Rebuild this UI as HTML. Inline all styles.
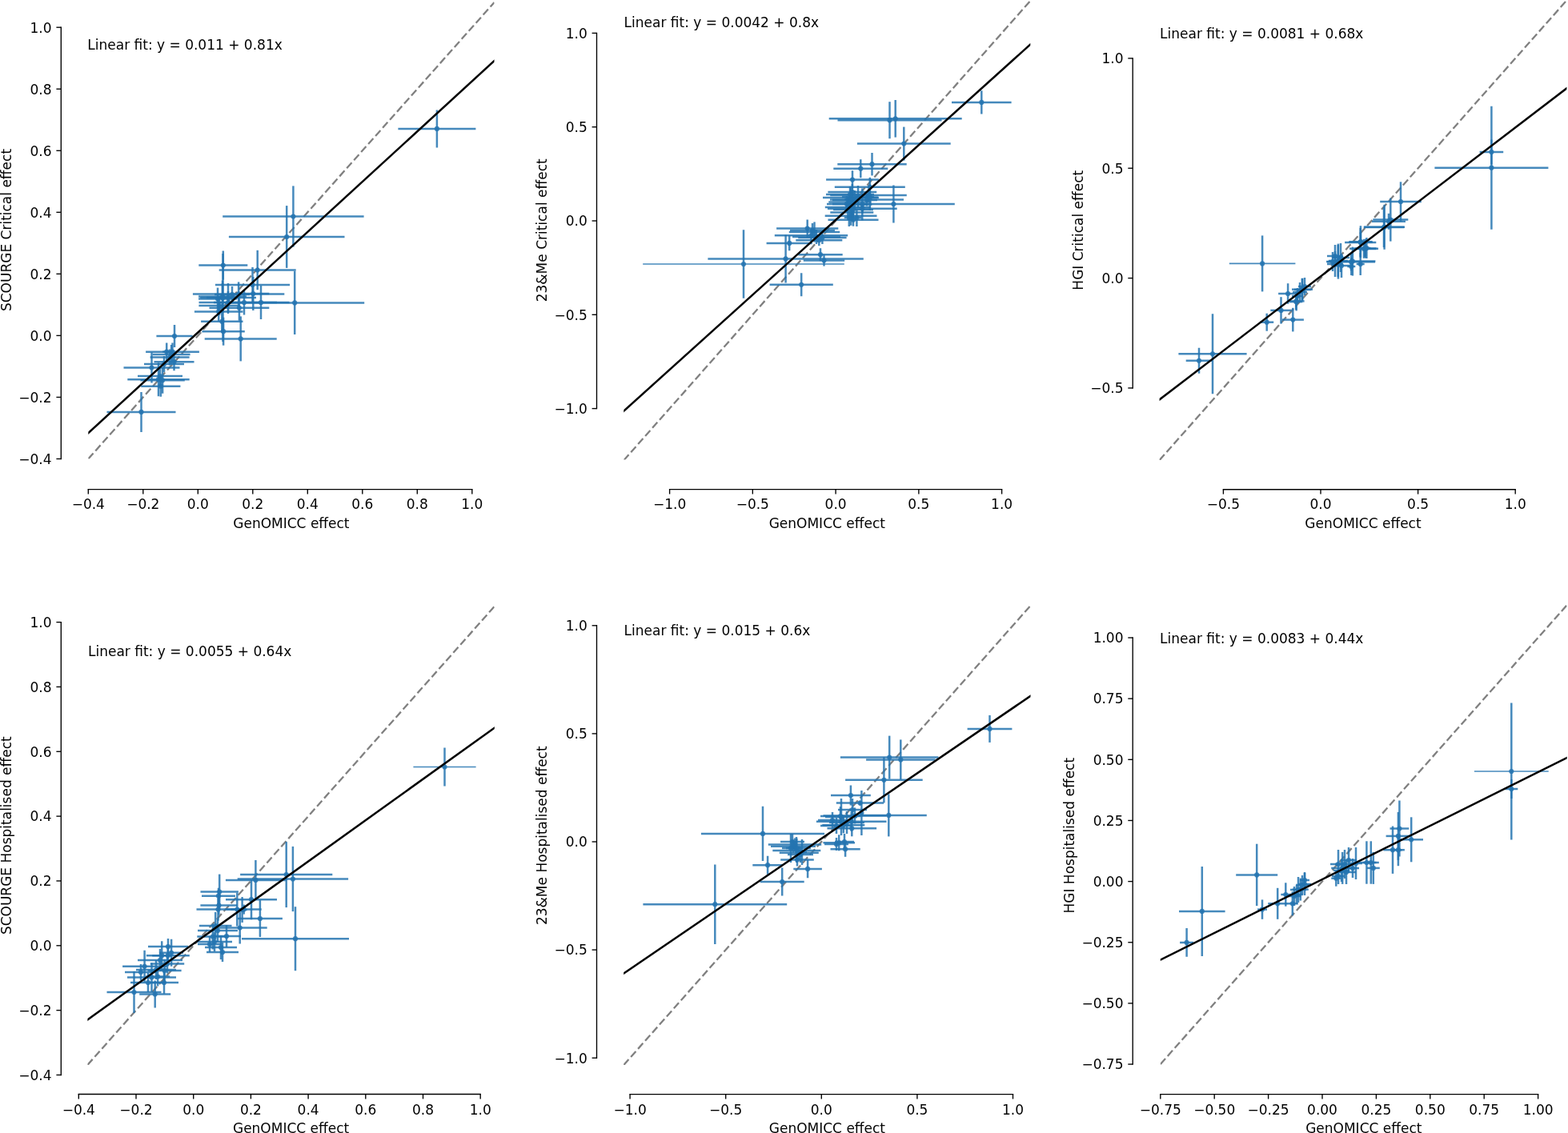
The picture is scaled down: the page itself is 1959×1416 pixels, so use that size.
<!DOCTYPE html><html><head><meta charset="utf-8"><title>GenOMICC comparison</title>
<style>html,body{margin:0;padding:0;background:#fff;overflow:hidden;width:1959px;height:1416px;}svg{display:block;}text{font-family:"DejaVu Sans", "Liberation Sans", sans-serif;font-size:17px;fill:#000;}</style></head><body>
<svg width="1959" height="1416" viewBox="0 0 1959 1416">
<rect width="1959" height="1416" fill="#fff"/>
<defs>
<clipPath id="cp1"><rect x="110.3" y="-1.5" width="507.2" height="575.0"/></clipPath>
<clipPath id="cp2"><rect x="779.3" y="-2.0" width="508.0" height="576.5"/></clipPath>
<clipPath id="cp3"><rect x="1448.6" y="-2.6" width="508.8" height="577.6"/></clipPath>
<clipPath id="cp4"><rect x="109.4" y="754.5" width="508.4" height="576.5"/></clipPath>
<clipPath id="cp5"><rect x="779.2" y="754.5" width="508.3" height="576.5"/></clipPath>
<clipPath id="cp6"><rect x="1449.8" y="754.5" width="507.9" height="576.5"/></clipPath>
</defs>
<g id="p1"><g clip-path="url(#cp1)"><line x1="110.3" y1="573.5" x2="617.5" y2="3.0" stroke="#808080" stroke-width="2.3" stroke-dasharray="9.4,4.1"/><g stroke="#2474b0" stroke-width="2.5" stroke-opacity="0.85" fill="none"><path d="M497.4 160.9H594.4"/><path d="M278.2 270.5H454.6"/><path d="M285.9 296.0H430.5"/><path d="M248.3 331.6H309.3"/><path d="M273.7 337.5H369.7"/><path d="M281.2 378.4H455.2"/><path d="M268.9 355.9H362.1"/><path d="M240.9 367.4H355.3"/><path d="M296.3 367.0H336.3"/><path d="M248.5 378.0H361.5"/><path d="M306.0 378.0H346.0"/><path d="M251.1 401.8H303.5"/><path d="M252.4 414.2H305.8"/><path d="M255.7 423.4H345.7"/><path d="M261.5 384.8H336.3"/><path d="M242.9 389.4H303.5"/><path d="M248.4 382.0H299.8"/><path d="M248.0 370.5H308.0"/><path d="M250.0 372.0H320.0"/><path d="M248.0 373.6H296.0"/><path d="M133.5 514.9H219.5"/><path d="M195.4 420.0H240.6"/><path d="M154.5 459.5H224.5"/><path d="M159.3 474.2H236.7"/><path d="M175.4 475.3H230.8"/><path d="M176.2 482.7H225.4"/><path d="M182.1 439.7H248.9"/><path d="M203.2 439.7H213.2"/><path d="M190.6 443.1H237.6"/><path d="M192.5 452.2H242.5"/><path d="M187.6 446.5H236.6"/><path d="M258.0 372.0H298.0"/><path d="M267.0 378.0H303.0"/><path d="M275.5 372.0H281.5"/><path d="M268.0 368.0H312.0"/><path d="M180.0 455.0H230.0"/><path d="M172.0 470.0H228.0"/><path d="M545.9 137.4V184.4"/><path d="M366.4 232.4V308.6"/><path d="M358.2 257.1V334.9"/><path d="M278.8 313.5V349.7"/><path d="M321.7 312.8V362.2"/><path d="M368.2 338.8V418.0"/><path d="M315.5 333.9V377.9"/><path d="M298.1 352.4V382.4"/><path d="M316.3 346.0V388.0"/><path d="M305.0 362.5V393.5"/><path d="M326.0 357.0V399.0"/><path d="M277.3 387.8V415.8"/><path d="M279.1 396.7V431.7"/><path d="M300.7 395.4V451.4"/><path d="M298.9 368.8V400.8"/><path d="M273.2 377.4V401.4"/><path d="M274.1 370.0V394.0"/><path d="M278.0 350.5V390.5"/><path d="M285.0 354.0V390.0"/><path d="M272.0 359.6V387.6"/><path d="M176.5 489.9V539.9"/><path d="M218.0 406.0V434.0"/><path d="M189.5 440.5V478.5"/><path d="M198.0 453.2V495.2"/><path d="M203.1 458.9V491.7"/><path d="M200.8 469.7V495.7"/><path d="M215.5 428.4V451.0"/><path d="M208.2 428.4V451.0"/><path d="M214.1 431.1V455.1"/><path d="M217.5 441.2V463.2"/><path d="M212.1 436.5V456.5"/><path d="M278.0 354.0V390.0"/><path d="M285.0 364.0V392.0"/><path d="M278.5 317.0V427.0"/><path d="M290.0 358.0V378.0"/><path d="M205.0 445.0V465.0"/><path d="M200.0 458.0V482.0"/></g><g fill="#2474b0" fill-opacity="0.85"><circle cx="545.9" cy="160.9" r="3.1"/><circle cx="366.4" cy="270.5" r="3.1"/><circle cx="358.2" cy="296.0" r="3.1"/><circle cx="278.8" cy="331.6" r="3.1"/><circle cx="321.7" cy="337.5" r="3.1"/><circle cx="368.2" cy="378.4" r="3.1"/><circle cx="315.5" cy="355.9" r="3.1"/><circle cx="298.1" cy="367.4" r="3.1"/><circle cx="316.3" cy="367.0" r="3.1"/><circle cx="305.0" cy="378.0" r="3.1"/><circle cx="326.0" cy="378.0" r="3.1"/><circle cx="277.3" cy="401.8" r="3.1"/><circle cx="279.1" cy="414.2" r="3.1"/><circle cx="300.7" cy="423.4" r="3.1"/><circle cx="298.9" cy="384.8" r="3.1"/><circle cx="273.2" cy="389.4" r="3.1"/><circle cx="274.1" cy="382.0" r="3.1"/><circle cx="278.0" cy="370.5" r="3.1"/><circle cx="285.0" cy="372.0" r="3.1"/><circle cx="272.0" cy="373.6" r="3.1"/><circle cx="176.5" cy="514.9" r="3.1"/><circle cx="218.0" cy="420.0" r="3.1"/><circle cx="189.5" cy="459.5" r="3.1"/><circle cx="198.0" cy="474.2" r="3.1"/><circle cx="203.1" cy="475.3" r="3.1"/><circle cx="200.8" cy="482.7" r="3.1"/><circle cx="215.5" cy="439.7" r="3.1"/><circle cx="208.2" cy="439.7" r="3.1"/><circle cx="214.1" cy="443.1" r="3.1"/><circle cx="217.5" cy="452.2" r="3.1"/><circle cx="212.1" cy="446.5" r="3.1"/><circle cx="278.0" cy="372.0" r="3.1"/><circle cx="285.0" cy="378.0" r="3.1"/><circle cx="278.5" cy="372.0" r="3.1"/><circle cx="290.0" cy="368.0" r="3.1"/><circle cx="205.0" cy="455.0" r="3.1"/><circle cx="200.0" cy="470.0" r="3.1"/></g><line x1="110.3" y1="541.2" x2="617.5" y2="76.0" stroke="#000" stroke-width="2.5" stroke-linecap="square"/></g><g stroke="#000" stroke-width="1.36" fill="none"><line x1="76.30" y1="33.52" x2="76.30" y2="574.16"/><line x1="70.40" y1="573.48" x2="76.30" y2="573.48"/><line x1="70.40" y1="496.44" x2="76.30" y2="496.44"/><line x1="70.40" y1="419.40" x2="76.30" y2="419.40"/><line x1="70.40" y1="342.36" x2="76.30" y2="342.36"/><line x1="70.40" y1="265.32" x2="76.30" y2="265.32"/><line x1="70.40" y1="188.28" x2="76.30" y2="188.28"/><line x1="70.40" y1="111.24" x2="76.30" y2="111.24"/><line x1="70.40" y1="34.20" x2="76.30" y2="34.20"/><line x1="109.62" y1="611.60" x2="590.48" y2="611.60"/><line x1="110.30" y1="611.60" x2="110.30" y2="617.50"/><line x1="178.80" y1="611.60" x2="178.80" y2="617.50"/><line x1="247.30" y1="611.60" x2="247.30" y2="617.50"/><line x1="315.80" y1="611.60" x2="315.80" y2="617.50"/><line x1="384.30" y1="611.60" x2="384.30" y2="617.50"/><line x1="452.80" y1="611.60" x2="452.80" y2="617.50"/><line x1="521.30" y1="611.60" x2="521.30" y2="617.50"/><line x1="589.80" y1="611.60" x2="589.80" y2="617.50"/></g><text x="64.6" y="579.8" text-anchor="end">−0.4</text><text x="64.6" y="502.7" text-anchor="end">−0.2</text><text x="64.6" y="425.7" text-anchor="end">0.0</text><text x="64.6" y="348.7" text-anchor="end">0.2</text><text x="64.6" y="271.6" text-anchor="end">0.4</text><text x="64.6" y="194.6" text-anchor="end">0.6</text><text x="64.6" y="117.5" text-anchor="end">0.8</text><text x="64.6" y="40.5" text-anchor="end">1.0</text><text x="110.3" y="636.3" text-anchor="middle">−0.4</text><text x="178.8" y="636.3" text-anchor="middle">−0.2</text><text x="247.3" y="636.3" text-anchor="middle">0.0</text><text x="315.8" y="636.3" text-anchor="middle">0.2</text><text x="384.3" y="636.3" text-anchor="middle">0.4</text><text x="452.8" y="636.3" text-anchor="middle">0.6</text><text x="521.3" y="636.3" text-anchor="middle">0.8</text><text x="589.8" y="636.3" text-anchor="middle">1.0</text><text x="363.9" y="659.7" text-anchor="middle">GenOMICC effect</text><text transform="translate(13.8,287.5) rotate(-90)" text-anchor="middle">SCOURGE Critical effect</text><text x="109.3" y="62.1">Linear fit: y = 0.011 + 0.81x</text></g>
<g id="p2"><g clip-path="url(#cp2)"><line x1="779.3" y1="575.3" x2="1287.3" y2="1.0" stroke="#808080" stroke-width="2.3" stroke-dasharray="9.4,4.1"/><g stroke="#2474b0" stroke-width="2.5" stroke-opacity="0.85" fill="none"><path d="M1189.0 127.9H1263.6"/><path d="M1046.5 150.2H1176.5"/><path d="M1035.7 148.3H1201.7"/><path d="M1070.9 179.6H1187.7"/><path d="M1046.3 205.2H1132.7"/><path d="M1041.3 210.7H1109.3"/><path d="M1032.1 224.5H1097.9"/><path d="M1042.8 233.8H1130.8"/><path d="M1040.0 255.0H1192.8"/><path d="M1034.4 240.1H1095.2"/><path d="M1037.2 244.1H1132.8"/><path d="M1028.0 247.0H1098.0"/><path d="M1037.0 249.5H1129.0"/><path d="M1035.3 252.5H1088.7"/><path d="M1030.8 258.9H1087.8"/><path d="M1033.9 260.7H1120.7"/><path d="M1037.3 265.6H1091.3"/><path d="M1030.7 269.8H1095.5"/><path d="M1034.5 274.7H1097.5"/><path d="M1055.2 249.3H1075.2"/><path d="M1065.3 255.4H1089.3"/><path d="M1076.9 246.7H1096.9"/><path d="M1054.8 272.0H1066.8"/><path d="M1064.4 272.0H1076.4"/><path d="M970.1 285.5H1047.3"/><path d="M985.8 290.0H1049.2"/><path d="M967.8 294.3H1059.2"/><path d="M997.2 297.0H1057.6"/><path d="M994.3 300.2H1052.3"/><path d="M957.6 303.9H1014.8"/><path d="M997.3 318.2H1052.7"/><path d="M1003.8 325.6H1055.2"/><path d="M884.4 323.4H1078.8"/><path d="M961.6 355.8H1040.8"/><path d="M1032.0 243.0H1092.0"/><path d="M1040.0 250.0H1096.0"/><path d="M1033.0 255.0H1083.0"/><path d="M1052.0 246.0H1092.0"/><path d="M1041.0 262.0H1091.0"/><path d="M987.0 288.0H1043.0"/><path d="M990.0 296.0H1050.0"/><path d="M803.2 330.0H1054.8" stroke-width="1.7"/><path d="M1226.3 113.3V142.5"/><path d="M1111.5 127.2V173.2"/><path d="M1118.7 125.0V171.6"/><path d="M1129.3 158.6V200.6"/><path d="M1089.5 191.0V219.4"/><path d="M1075.3 199.2V222.2"/><path d="M1065.0 213.2V235.8"/><path d="M1086.8 221.8V245.8"/><path d="M1116.4 231.5V278.5"/><path d="M1064.8 230.1V250.1"/><path d="M1085.0 236.1V252.1"/><path d="M1063.0 235.0V259.0"/><path d="M1083.0 241.5V257.5"/><path d="M1062.0 242.5V262.5"/><path d="M1059.3 246.9V270.9"/><path d="M1077.3 254.7V266.7"/><path d="M1064.3 255.6V275.6"/><path d="M1063.1 257.8V281.8"/><path d="M1066.0 266.7V282.7"/><path d="M1065.2 237.3V261.3"/><path d="M1077.3 235.4V275.4"/><path d="M1086.9 230.7V262.7"/><path d="M1060.8 261.0V283.0"/><path d="M1070.4 261.0V283.0"/><path d="M1008.7 274.5V296.5"/><path d="M1017.5 277.4V302.6"/><path d="M1013.5 286.3V302.3"/><path d="M1027.4 289.0V305.0"/><path d="M1023.3 293.2V307.2"/><path d="M986.2 294.5V313.3"/><path d="M1025.0 310.2V326.2"/><path d="M1029.5 318.6V332.6"/><path d="M981.6 293.4V353.4"/><path d="M929.0 287.3V372.7"/><path d="M1001.2 341.3V370.3"/><path d="M1062.0 233.0V253.0"/><path d="M1068.0 238.0V262.0"/><path d="M1058.0 245.0V265.0"/><path d="M1072.0 232.0V260.0"/><path d="M1066.0 252.0V272.0"/><path d="M1015.0 279.0V297.0"/><path d="M1020.0 287.0V305.0"/></g><g fill="#2474b0" fill-opacity="0.85"><circle cx="1226.3" cy="127.9" r="3.1"/><circle cx="1111.5" cy="150.2" r="3.1"/><circle cx="1118.7" cy="148.3" r="3.1"/><circle cx="1129.3" cy="179.6" r="3.1"/><circle cx="1089.5" cy="205.2" r="3.1"/><circle cx="1075.3" cy="210.7" r="3.1"/><circle cx="1065.0" cy="224.5" r="3.1"/><circle cx="1086.8" cy="233.8" r="3.1"/><circle cx="1116.4" cy="255.0" r="3.1"/><circle cx="1064.8" cy="240.1" r="3.1"/><circle cx="1085.0" cy="244.1" r="3.1"/><circle cx="1063.0" cy="247.0" r="3.1"/><circle cx="1083.0" cy="249.5" r="3.1"/><circle cx="1062.0" cy="252.5" r="3.1"/><circle cx="1059.3" cy="258.9" r="3.1"/><circle cx="1077.3" cy="260.7" r="3.1"/><circle cx="1064.3" cy="265.6" r="3.1"/><circle cx="1063.1" cy="269.8" r="3.1"/><circle cx="1066.0" cy="274.7" r="3.1"/><circle cx="1065.2" cy="249.3" r="3.1"/><circle cx="1077.3" cy="255.4" r="3.1"/><circle cx="1086.9" cy="246.7" r="3.1"/><circle cx="1060.8" cy="272.0" r="3.1"/><circle cx="1070.4" cy="272.0" r="3.1"/><circle cx="1008.7" cy="285.5" r="3.1"/><circle cx="1017.5" cy="290.0" r="3.1"/><circle cx="1013.5" cy="294.3" r="3.1"/><circle cx="1027.4" cy="297.0" r="3.1"/><circle cx="1023.3" cy="300.2" r="3.1"/><circle cx="986.2" cy="303.9" r="3.1"/><circle cx="1025.0" cy="318.2" r="3.1"/><circle cx="1029.5" cy="325.6" r="3.1"/><circle cx="981.6" cy="323.4" r="3.1"/><circle cx="929.0" cy="330.0" r="3.1"/><circle cx="1001.2" cy="355.8" r="3.1"/><circle cx="1062.0" cy="243.0" r="3.1"/><circle cx="1068.0" cy="250.0" r="3.1"/><circle cx="1058.0" cy="255.0" r="3.1"/><circle cx="1072.0" cy="246.0" r="3.1"/><circle cx="1066.0" cy="262.0" r="3.1"/><circle cx="1015.0" cy="288.0" r="3.1"/><circle cx="1020.0" cy="296.0" r="3.1"/></g><line x1="779.3" y1="513.7" x2="1287.3" y2="55.5" stroke="#000" stroke-width="2.5" stroke-linecap="square"/></g><g stroke="#000" stroke-width="1.36" fill="none"><line x1="745.50" y1="40.72" x2="745.50" y2="511.28"/><line x1="739.60" y1="510.60" x2="745.50" y2="510.60"/><line x1="739.60" y1="393.30" x2="745.50" y2="393.30"/><line x1="739.60" y1="276.00" x2="745.50" y2="276.00"/><line x1="739.60" y1="158.70" x2="745.50" y2="158.70"/><line x1="739.60" y1="41.40" x2="745.50" y2="41.40"/><line x1="835.92" y1="611.60" x2="1252.28" y2="611.60"/><line x1="836.60" y1="611.60" x2="836.60" y2="617.50"/><line x1="940.35" y1="611.60" x2="940.35" y2="617.50"/><line x1="1044.10" y1="611.60" x2="1044.10" y2="617.50"/><line x1="1147.85" y1="611.60" x2="1147.85" y2="617.50"/><line x1="1251.60" y1="611.60" x2="1251.60" y2="617.50"/></g><text x="733.8" y="516.9" text-anchor="end">−1.0</text><text x="733.8" y="399.6" text-anchor="end">−0.5</text><text x="733.8" y="282.3" text-anchor="end">0.0</text><text x="733.8" y="165.0" text-anchor="end">0.5</text><text x="733.8" y="47.7" text-anchor="end">1.0</text><text x="836.6" y="636.3" text-anchor="middle">−1.0</text><text x="940.3" y="636.3" text-anchor="middle">−0.5</text><text x="1044.1" y="636.3" text-anchor="middle">0.0</text><text x="1147.8" y="636.3" text-anchor="middle">0.5</text><text x="1251.6" y="636.3" text-anchor="middle">1.0</text><text x="1033.3" y="659.7" text-anchor="middle">GenOMICC effect</text><text transform="translate(683.3,287.8) rotate(-90)" text-anchor="middle">23&amp;Me Critical effect</text><text x="779.6" y="33.6">Linear fit: y = 0.0042 + 0.8x</text></g>
<g id="p3"><g clip-path="url(#cp3)"><line x1="1448.6" y1="575.1" x2="1957.4" y2="0.4" stroke="#808080" stroke-width="2.3" stroke-dasharray="9.4,4.1"/><g stroke="#2474b0" stroke-width="2.5" stroke-opacity="0.85" fill="none"><path d="M1792.4 209.7H1934.4"/><path d="M1848.6 189.9H1878.2"/><path d="M1724.2 252.0H1775.8"/><path d="M1715.3 274.6H1759.3"/><path d="M1704.2 283.8H1755.0"/><path d="M1714.0 276.8H1756.0"/><path d="M1703.7 284.1H1754.3"/><path d="M1685.9 302.2H1713.9"/><path d="M1692.7 310.6H1719.7"/><path d="M1691.4 311.0H1719.4"/><path d="M1680.1 302.9H1719.3"/><path d="M1661.4 326.6H1718.4"/><path d="M1659.9 326.6H1683.9"/><path d="M1658.0 320.0H1678.0"/><path d="M1666.0 332.0H1686.0"/><path d="M1614.0 361.7H1640.0"/><path d="M1609.6 376.4H1629.6"/><path d="M1597.1 367.0H1621.1"/><path d="M1472.4 442.3H1557.6"/><path d="M1481.7 450.8H1514.3"/><path d="M1574.2 402.7H1591.2"/><path d="M1587.3 387.9H1613.7"/><path d="M1601.7 399.6H1628.9"/><path d="M1611.2 377.1H1627.2"/><path d="M1659.8 326.0H1683.8"/><path d="M1658.0 330.0H1678.0"/><path d="M1664.0 322.0H1686.0"/><path d="M1657.0 327.0H1673.0"/><path d="M1658.0 327.3H1718.0"/><path d="M1685.0 302.5H1715.0"/><path d="M1686.0 310.8H1722.0"/><path d="M1694.7 330.0H1704.7"/><path d="M1683.3 333.0H1693.3"/><path d="M1702.4 310.0H1712.4"/><path d="M1617.0 362.0H1637.0"/><path d="M1615.0 365.0H1633.0"/><path d="M1622.0 358.0H1638.0"/><path d="M1614.0 370.0H1628.0"/><path d="M1535.8 329.4H1618.4" stroke-width="1.7"/><path d="M1863.4 132.7V286.7"/><path d="M1863.4 174.4V205.4"/><path d="M1750.0 227.3V276.7"/><path d="M1737.3 247.6V301.6"/><path d="M1729.6 255.8V311.8"/><path d="M1735.0 266.8V286.8"/><path d="M1729.0 259.1V309.1"/><path d="M1699.9 282.2V322.2"/><path d="M1706.2 298.6V322.6"/><path d="M1705.4 301.0V321.0"/><path d="M1699.7 284.9V320.9"/><path d="M1689.9 308.6V344.6"/><path d="M1671.9 304.6V348.6"/><path d="M1668.0 306.0V334.0"/><path d="M1676.0 317.0V347.0"/><path d="M1627.0 347.7V375.7"/><path d="M1619.6 364.4V388.4"/><path d="M1609.1 354.2V379.8"/><path d="M1577.1 294.4V364.4"/><path d="M1515.0 392.3V492.3"/><path d="M1498.0 434.8V466.8"/><path d="M1582.7 391.7V413.7"/><path d="M1600.5 371.2V404.6"/><path d="M1615.3 384.8V414.4"/><path d="M1619.2 367.1V387.1"/><path d="M1671.8 306.0V346.0"/><path d="M1668.0 314.0V346.0"/><path d="M1675.0 304.0V340.0"/><path d="M1665.0 315.0V339.0"/><path d="M1688.0 316.3V338.3"/><path d="M1700.0 290.5V314.5"/><path d="M1704.0 298.8V322.8"/><path d="M1699.7 316.0V344.0"/><path d="M1688.3 322.0V344.0"/><path d="M1707.4 297.0V323.0"/><path d="M1627.0 348.0V376.0"/><path d="M1624.0 353.0V377.0"/><path d="M1630.0 347.0V369.0"/><path d="M1621.0 360.0V380.0"/></g><g fill="#2474b0" fill-opacity="0.85"><circle cx="1863.4" cy="209.7" r="3.1"/><circle cx="1863.4" cy="189.9" r="3.1"/><circle cx="1750.0" cy="252.0" r="3.1"/><circle cx="1737.3" cy="274.6" r="3.1"/><circle cx="1729.6" cy="283.8" r="3.1"/><circle cx="1735.0" cy="276.8" r="3.1"/><circle cx="1729.0" cy="284.1" r="3.1"/><circle cx="1699.9" cy="302.2" r="3.1"/><circle cx="1706.2" cy="310.6" r="3.1"/><circle cx="1705.4" cy="311.0" r="3.1"/><circle cx="1699.7" cy="302.9" r="3.1"/><circle cx="1689.9" cy="326.6" r="3.1"/><circle cx="1671.9" cy="326.6" r="3.1"/><circle cx="1668.0" cy="320.0" r="3.1"/><circle cx="1676.0" cy="332.0" r="3.1"/><circle cx="1627.0" cy="361.7" r="3.1"/><circle cx="1619.6" cy="376.4" r="3.1"/><circle cx="1609.1" cy="367.0" r="3.1"/><circle cx="1577.1" cy="329.4" r="3.1"/><circle cx="1515.0" cy="442.3" r="3.1"/><circle cx="1498.0" cy="450.8" r="3.1"/><circle cx="1582.7" cy="402.7" r="3.1"/><circle cx="1600.5" cy="387.9" r="3.1"/><circle cx="1615.3" cy="399.6" r="3.1"/><circle cx="1619.2" cy="377.1" r="3.1"/><circle cx="1671.8" cy="326.0" r="3.1"/><circle cx="1668.0" cy="330.0" r="3.1"/><circle cx="1675.0" cy="322.0" r="3.1"/><circle cx="1665.0" cy="327.0" r="3.1"/><circle cx="1688.0" cy="327.3" r="3.1"/><circle cx="1700.0" cy="302.5" r="3.1"/><circle cx="1704.0" cy="310.8" r="3.1"/><circle cx="1699.7" cy="330.0" r="3.1"/><circle cx="1688.3" cy="333.0" r="3.1"/><circle cx="1707.4" cy="310.0" r="3.1"/><circle cx="1627.0" cy="362.0" r="3.1"/><circle cx="1624.0" cy="365.0" r="3.1"/><circle cx="1630.0" cy="358.0" r="3.1"/><circle cx="1621.0" cy="370.0" r="3.1"/></g><line x1="1448.6" y1="499.4" x2="1957.4" y2="110.3" stroke="#000" stroke-width="2.5" stroke-linecap="square"/></g><g stroke="#000" stroke-width="1.36" fill="none"><line x1="1415.20" y1="72.22" x2="1415.20" y2="485.63"/><line x1="1409.30" y1="484.95" x2="1415.20" y2="484.95"/><line x1="1409.30" y1="347.60" x2="1415.20" y2="347.60"/><line x1="1409.30" y1="210.25" x2="1415.20" y2="210.25"/><line x1="1409.30" y1="72.90" x2="1415.20" y2="72.90"/><line x1="1527.72" y1="611.70" x2="1893.88" y2="611.70"/><line x1="1528.40" y1="611.70" x2="1528.40" y2="617.60"/><line x1="1650.00" y1="611.70" x2="1650.00" y2="617.60"/><line x1="1771.60" y1="611.70" x2="1771.60" y2="617.60"/><line x1="1893.20" y1="611.70" x2="1893.20" y2="617.60"/></g><text x="1403.5" y="491.3" text-anchor="end">−0.5</text><text x="1403.5" y="353.9" text-anchor="end">0.0</text><text x="1403.5" y="216.6" text-anchor="end">0.5</text><text x="1403.5" y="79.2" text-anchor="end">1.0</text><text x="1528.4" y="636.3" text-anchor="middle">−0.5</text><text x="1650.0" y="636.3" text-anchor="middle">0.0</text><text x="1771.6" y="636.3" text-anchor="middle">0.5</text><text x="1893.2" y="636.3" text-anchor="middle">1.0</text><text x="1703.0" y="659.7" text-anchor="middle">GenOMICC effect</text><text transform="translate(1352.9,287.7) rotate(-90)" text-anchor="middle">HGI Critical effect</text><text x="1449.1" y="48.0">Linear fit: y = 0.0081 + 0.68x</text></g>
<g id="p4"><g clip-path="url(#cp4)"><line x1="109.4" y1="1330.9" x2="617.8" y2="757.8" stroke="#808080" stroke-width="2.3" stroke-dasharray="9.4,4.1"/><g stroke="#2474b0" stroke-width="2.5" stroke-opacity="0.85" fill="none"><path d="M300.1 1093.1H415.3"/><path d="M296.7 1098.5H435.1"/><path d="M281.9 1100.0H356.9"/><path d="M302.0 1173.2H436.0"/><path d="M296.9 1148.0H352.9"/><path d="M282.0 1124.2H346.0"/><path d="M265.7 1159.5H333.7"/><path d="M250.5 1114.6H297.9"/><path d="M250.4 1131.5H296.4"/><path d="M252.0 1119.7H294.0"/><path d="M245.5 1136.6H299.5"/><path d="M248.9 1157.0H289.5"/><path d="M256.0 1184.1H296.0"/><path d="M246.3 1170.5H285.3"/><path d="M288.3 1136.6H304.3"/><path d="M282.7 1136.6H326.7"/><path d="M296.6 1137.0H308.6"/><path d="M133.5 1240.0H201.5"/><path d="M174.2 1242.5H213.2"/><path d="M153.1 1207.8H208.1"/><path d="M159.0 1221.4H220.0"/><path d="M182.1 1220.5H212.1"/><path d="M182.8 1194.2H236.8"/><path d="M199.1 1190.8H229.1"/><path d="M184.6 1212.9H226.6"/><path d="M187.8 1204.4H230.2"/><path d="M190.2 1194.2H214.2"/><path d="M247.0 1163.0H297.0"/><path d="M246.0 1177.0H290.0"/><path d="M258.0 1190.0H298.0"/><path d="M265.0 1170.0H301.0"/><path d="M247.0 1180.0H277.0"/><path d="M172.0 1200.0H228.0"/><path d="M170.0 1212.0H220.0"/><path d="M163.0 1228.0H207.0"/><path d="M187.0 1228.0H223.0"/><path d="M156.0 1215.0H196.0"/><path d="M185.0 1183.0H235.0"/><path d="M516.4 958.5H594.6" stroke-width="1.7"/><path d="M555.5 934.5V982.5"/><path d="M357.7 1052.1V1134.1"/><path d="M365.9 1057.9V1139.1"/><path d="M319.4 1075.0V1125.0"/><path d="M369.0 1133.2V1213.2"/><path d="M324.9 1125.0V1171.0"/><path d="M314.0 1099.2V1149.2"/><path d="M299.7 1139.5V1179.5"/><path d="M274.2 1092.6V1136.6"/><path d="M273.4 1119.5V1143.5"/><path d="M273.0 1109.7V1129.7"/><path d="M272.5 1122.6V1150.6"/><path d="M269.2 1140.0V1174.0"/><path d="M276.0 1169.1V1199.1"/><path d="M265.8 1154.5V1186.5"/><path d="M296.3 1115.6V1157.6"/><path d="M304.7 1130.6V1142.6"/><path d="M302.6 1121.0V1153.0"/><path d="M167.5 1214.0V1266.0"/><path d="M193.7 1225.5V1259.5"/><path d="M180.6 1187.8V1227.8"/><path d="M189.5 1203.4V1239.4"/><path d="M197.1 1208.5V1232.5"/><path d="M209.8 1182.2V1206.2"/><path d="M214.1 1173.8V1207.8"/><path d="M205.6 1198.9V1226.9"/><path d="M209.0 1192.4V1216.4"/><path d="M202.2 1176.2V1212.2"/><path d="M272.0 1149.0V1177.0"/><path d="M268.0 1165.0V1189.0"/><path d="M278.0 1178.0V1202.0"/><path d="M283.0 1156.0V1184.0"/><path d="M262.0 1170.0V1190.0"/><path d="M200.0 1186.0V1214.0"/><path d="M195.0 1200.0V1224.0"/><path d="M185.0 1216.0V1240.0"/><path d="M205.0 1214.0V1242.0"/><path d="M176.0 1205.0V1225.0"/><path d="M210.0 1173.0V1193.0"/></g><g fill="#2474b0" fill-opacity="0.85"><circle cx="555.5" cy="958.5" r="3.1"/><circle cx="357.7" cy="1093.1" r="3.1"/><circle cx="365.9" cy="1098.5" r="3.1"/><circle cx="319.4" cy="1100.0" r="3.1"/><circle cx="369.0" cy="1173.2" r="3.1"/><circle cx="324.9" cy="1148.0" r="3.1"/><circle cx="314.0" cy="1124.2" r="3.1"/><circle cx="299.7" cy="1159.5" r="3.1"/><circle cx="274.2" cy="1114.6" r="3.1"/><circle cx="273.4" cy="1131.5" r="3.1"/><circle cx="273.0" cy="1119.7" r="3.1"/><circle cx="272.5" cy="1136.6" r="3.1"/><circle cx="269.2" cy="1157.0" r="3.1"/><circle cx="276.0" cy="1184.1" r="3.1"/><circle cx="265.8" cy="1170.5" r="3.1"/><circle cx="296.3" cy="1136.6" r="3.1"/><circle cx="304.7" cy="1136.6" r="3.1"/><circle cx="302.6" cy="1137.0" r="3.1"/><circle cx="167.5" cy="1240.0" r="3.1"/><circle cx="193.7" cy="1242.5" r="3.1"/><circle cx="180.6" cy="1207.8" r="3.1"/><circle cx="189.5" cy="1221.4" r="3.1"/><circle cx="197.1" cy="1220.5" r="3.1"/><circle cx="209.8" cy="1194.2" r="3.1"/><circle cx="214.1" cy="1190.8" r="3.1"/><circle cx="205.6" cy="1212.9" r="3.1"/><circle cx="209.0" cy="1204.4" r="3.1"/><circle cx="202.2" cy="1194.2" r="3.1"/><circle cx="272.0" cy="1163.0" r="3.1"/><circle cx="268.0" cy="1177.0" r="3.1"/><circle cx="278.0" cy="1190.0" r="3.1"/><circle cx="283.0" cy="1170.0" r="3.1"/><circle cx="262.0" cy="1180.0" r="3.1"/><circle cx="200.0" cy="1200.0" r="3.1"/><circle cx="195.0" cy="1212.0" r="3.1"/><circle cx="185.0" cy="1228.0" r="3.1"/><circle cx="205.0" cy="1228.0" r="3.1"/><circle cx="176.0" cy="1215.0" r="3.1"/><circle cx="210.0" cy="1183.0" r="3.1"/></g><line x1="109.4" y1="1274.4" x2="617.8" y2="909.6" stroke="#000" stroke-width="2.5" stroke-linecap="square"/></g><g stroke="#000" stroke-width="1.36" fill="none"><line x1="76.30" y1="776.92" x2="76.30" y2="1344.16"/><line x1="70.40" y1="1343.48" x2="76.30" y2="1343.48"/><line x1="70.40" y1="1262.64" x2="76.30" y2="1262.64"/><line x1="70.40" y1="1181.80" x2="76.30" y2="1181.80"/><line x1="70.40" y1="1100.96" x2="76.30" y2="1100.96"/><line x1="70.40" y1="1020.12" x2="76.30" y2="1020.12"/><line x1="70.40" y1="939.28" x2="76.30" y2="939.28"/><line x1="70.40" y1="858.44" x2="76.30" y2="858.44"/><line x1="70.40" y1="777.60" x2="76.30" y2="777.60"/><line x1="97.62" y1="1367.50" x2="600.88" y2="1367.50"/><line x1="98.30" y1="1367.50" x2="98.30" y2="1373.40"/><line x1="170.00" y1="1367.50" x2="170.00" y2="1373.40"/><line x1="241.70" y1="1367.50" x2="241.70" y2="1373.40"/><line x1="313.40" y1="1367.50" x2="313.40" y2="1373.40"/><line x1="385.10" y1="1367.50" x2="385.10" y2="1373.40"/><line x1="456.80" y1="1367.50" x2="456.80" y2="1373.40"/><line x1="528.50" y1="1367.50" x2="528.50" y2="1373.40"/><line x1="600.20" y1="1367.50" x2="600.20" y2="1373.40"/></g><text x="64.6" y="1349.8" text-anchor="end">−0.4</text><text x="64.6" y="1268.9" text-anchor="end">−0.2</text><text x="64.6" y="1188.1" text-anchor="end">0.0</text><text x="64.6" y="1107.3" text-anchor="end">0.2</text><text x="64.6" y="1026.4" text-anchor="end">0.4</text><text x="64.6" y="945.6" text-anchor="end">0.6</text><text x="64.6" y="864.7" text-anchor="end">0.8</text><text x="64.6" y="783.9" text-anchor="end">1.0</text><text x="98.3" y="1392.6" text-anchor="middle">−0.4</text><text x="170.0" y="1392.6" text-anchor="middle">−0.2</text><text x="241.7" y="1392.6" text-anchor="middle">0.0</text><text x="313.4" y="1392.6" text-anchor="middle">0.2</text><text x="385.1" y="1392.6" text-anchor="middle">0.4</text><text x="456.8" y="1392.6" text-anchor="middle">0.6</text><text x="528.5" y="1392.6" text-anchor="middle">0.8</text><text x="600.2" y="1392.6" text-anchor="middle">1.0</text><text x="363.6" y="1415.6" text-anchor="middle">GenOMICC effect</text><text transform="translate(13.9,1044.2) rotate(-90)" text-anchor="middle">SCOURGE Hospitalised effect</text><text x="110.0" y="819.8">Linear fit: y = 0.0055 + 0.64x</text></g>
<g id="p5"><g clip-path="url(#cp5)"><line x1="779.2" y1="1331.1" x2="1287.5" y2="756.9" stroke="#808080" stroke-width="2.3" stroke-dasharray="9.4,4.1"/><g stroke="#2474b0" stroke-width="2.5" stroke-opacity="0.85" fill="none"><path d="M1208.6 910.9H1264.4"/><path d="M1049.9 946.6H1172.5"/><path d="M1082.1 949.4H1168.5"/><path d="M1056.1 974.8H1152.7"/><path d="M1062.8 1018.9H1157.8"/><path d="M1038.0 994.0H1087.8"/><path d="M1044.8 1003.6H1104.2"/><path d="M1075.4 1016.0H1077.4"/><path d="M1031.0 1021.0H1071.0"/><path d="M1028.5 1019.4H1107.5"/><path d="M1019.9 1026.8H1107.5"/><path d="M1033.5 1035.3H1095.1"/><path d="M1027.3 1031.3H1080.3"/><path d="M1037.5 1061.2H1074.7"/><path d="M1028.4 1053.3H1068.0"/><path d="M965.3 1063.1H1025.3"/><path d="M959.8 1055.4H1026.2"/><path d="M963.0 1057.7H1019.0"/><path d="M973.8 1065.8H1022.8"/><path d="M975.2 1074.5H1016.8"/><path d="M982.0 1060.0H994.0"/><path d="M996.0 1065.0H1008.0"/><path d="M875.9 1041.9H1030.1"/><path d="M940.3 1081.2H977.9"/><path d="M949.7 1102.0H1004.7"/><path d="M991.3 1085.9H1026.9"/><path d="M803.4 1130.2H983.2"/><path d="M1025.0 1020.0H1075.0"/><path d="M1036.0 1028.0H1080.0"/><path d="M1025.0 1032.0H1065.0"/><path d="M1047.0 1012.0H1083.0"/><path d="M1022.0 1025.0H1058.0"/><path d="M977.0 1060.0H1013.0"/><path d="M984.0 1068.0H1016.0"/><path d="M975.0 1052.0H1005.0"/><path d="M1030.0 1055.0H1060.0"/><path d="M1043.0 1052.0H1067.0"/><path d="M1236.5 893.9V927.9"/><path d="M1111.2 919.6V973.6"/><path d="M1125.3 924.4V974.4"/><path d="M1104.4 946.3V1003.3"/><path d="M1110.3 992.4V1045.4"/><path d="M1062.9 981.5V1006.5"/><path d="M1074.5 1000.6V1006.6"/><path d="M1076.4 988.0V1044.0"/><path d="M1051.0 998.0V1044.0"/><path d="M1068.0 1009.4V1029.4"/><path d="M1063.7 1014.8V1038.8"/><path d="M1064.3 1025.3V1045.3"/><path d="M1053.8 1021.3V1041.3"/><path d="M1056.1 1051.6V1070.8"/><path d="M1048.2 1043.3V1063.3"/><path d="M995.3 1048.1V1078.1"/><path d="M993.0 1047.4V1063.4"/><path d="M991.0 1049.7V1065.7"/><path d="M998.3 1057.8V1073.8"/><path d="M996.0 1066.5V1082.5"/><path d="M988.0 1042.0V1078.0"/><path d="M1002.0 1049.0V1081.0"/><path d="M953.0 1007.7V1076.1"/><path d="M959.1 1069.7V1092.7"/><path d="M977.2 1084.6V1119.4"/><path d="M1009.1 1074.5V1097.3"/><path d="M893.3 1080.5V1179.9"/><path d="M1050.0 1008.0V1032.0"/><path d="M1058.0 1014.0V1042.0"/><path d="M1045.0 1022.0V1042.0"/><path d="M1065.0 998.0V1026.0"/><path d="M1040.0 1015.0V1035.0"/><path d="M995.0 1046.0V1074.0"/><path d="M1000.0 1058.0V1078.0"/><path d="M990.0 1042.0V1062.0"/><path d="M1045.0 1047.0V1063.0"/><path d="M1055.0 1042.0V1062.0"/></g><g fill="#2474b0" fill-opacity="0.85"><circle cx="1236.5" cy="910.9" r="3.1"/><circle cx="1111.2" cy="946.6" r="3.1"/><circle cx="1125.3" cy="949.4" r="3.1"/><circle cx="1104.4" cy="974.8" r="3.1"/><circle cx="1110.3" cy="1018.9" r="3.1"/><circle cx="1062.9" cy="994.0" r="3.1"/><circle cx="1074.5" cy="1003.6" r="3.1"/><circle cx="1076.4" cy="1016.0" r="3.1"/><circle cx="1051.0" cy="1021.0" r="3.1"/><circle cx="1068.0" cy="1019.4" r="3.1"/><circle cx="1063.7" cy="1026.8" r="3.1"/><circle cx="1064.3" cy="1035.3" r="3.1"/><circle cx="1053.8" cy="1031.3" r="3.1"/><circle cx="1056.1" cy="1061.2" r="3.1"/><circle cx="1048.2" cy="1053.3" r="3.1"/><circle cx="995.3" cy="1063.1" r="3.1"/><circle cx="993.0" cy="1055.4" r="3.1"/><circle cx="991.0" cy="1057.7" r="3.1"/><circle cx="998.3" cy="1065.8" r="3.1"/><circle cx="996.0" cy="1074.5" r="3.1"/><circle cx="988.0" cy="1060.0" r="3.1"/><circle cx="1002.0" cy="1065.0" r="3.1"/><circle cx="953.0" cy="1041.9" r="3.1"/><circle cx="959.1" cy="1081.2" r="3.1"/><circle cx="977.2" cy="1102.0" r="3.1"/><circle cx="1009.1" cy="1085.9" r="3.1"/><circle cx="893.3" cy="1130.2" r="3.1"/><circle cx="1050.0" cy="1020.0" r="3.1"/><circle cx="1058.0" cy="1028.0" r="3.1"/><circle cx="1045.0" cy="1032.0" r="3.1"/><circle cx="1065.0" cy="1012.0" r="3.1"/><circle cx="1040.0" cy="1025.0" r="3.1"/><circle cx="995.0" cy="1060.0" r="3.1"/><circle cx="1000.0" cy="1068.0" r="3.1"/><circle cx="990.0" cy="1052.0" r="3.1"/><circle cx="1045.0" cy="1055.0" r="3.1"/><circle cx="1055.0" cy="1052.0" r="3.1"/></g><line x1="779.2" y1="1216.7" x2="1287.5" y2="869.8" stroke="#000" stroke-width="2.5" stroke-linecap="square"/></g><g stroke="#000" stroke-width="1.36" fill="none"><line x1="745.50" y1="781.12" x2="745.50" y2="1322.88"/><line x1="739.60" y1="1322.20" x2="745.50" y2="1322.20"/><line x1="739.60" y1="1187.10" x2="745.50" y2="1187.10"/><line x1="739.60" y1="1052.00" x2="745.50" y2="1052.00"/><line x1="739.60" y1="916.90" x2="745.50" y2="916.90"/><line x1="739.60" y1="781.80" x2="745.50" y2="781.80"/><line x1="786.42" y1="1367.60" x2="1266.18" y2="1367.60"/><line x1="787.10" y1="1367.60" x2="787.10" y2="1373.50"/><line x1="906.70" y1="1367.60" x2="906.70" y2="1373.50"/><line x1="1026.30" y1="1367.60" x2="1026.30" y2="1373.50"/><line x1="1145.90" y1="1367.60" x2="1145.90" y2="1373.50"/><line x1="1265.50" y1="1367.60" x2="1265.50" y2="1373.50"/></g><text x="733.8" y="1328.5" text-anchor="end">−1.0</text><text x="733.8" y="1193.4" text-anchor="end">−0.5</text><text x="733.8" y="1058.3" text-anchor="end">0.0</text><text x="733.8" y="923.2" text-anchor="end">0.5</text><text x="733.8" y="788.1" text-anchor="end">1.0</text><text x="787.1" y="1392.6" text-anchor="middle">−1.0</text><text x="906.7" y="1392.6" text-anchor="middle">−0.5</text><text x="1026.3" y="1392.6" text-anchor="middle">0.0</text><text x="1145.9" y="1392.6" text-anchor="middle">0.5</text><text x="1265.5" y="1392.6" text-anchor="middle">1.0</text><text x="1033.4" y="1415.6" text-anchor="middle">GenOMICC effect</text><text transform="translate(682.9,1044.2) rotate(-90)" text-anchor="middle">23&amp;Me Hospitalised effect</text><text x="779.6" y="793.7">Linear fit: y = 0.015 + 0.6x</text></g>
<g id="p6"><g clip-path="url(#cp6)"><line x1="1449.8" y1="1330.0" x2="1957.7" y2="756.2" stroke="#808080" stroke-width="2.3" stroke-dasharray="9.4,4.1"/><g stroke="#2474b0" stroke-width="2.5" stroke-opacity="0.85" fill="none"><path d="M1880.3 986.0H1896.3"/><path d="M1736.5 1035.5H1760.3"/><path d="M1731.6 1044.9H1762.2"/><path d="M1748.4 1049.3H1778.0"/><path d="M1728.4 1062.2H1751.6"/><path d="M1738.9 1062.2H1754.9"/><path d="M1695.4 1078.0H1719.4"/><path d="M1702.8 1078.0H1722.8"/><path d="M1707.8 1084.9H1723.8"/><path d="M1686.0 1079.0H1702.0"/><path d="M1663.2 1084.9H1691.2"/><path d="M1662.0 1080.0H1682.0"/><path d="M1670.0 1090.0H1694.0"/><path d="M1663.3 1097.7H1675.3"/><path d="M1614.8 1111.6H1634.8"/><path d="M1612.0 1118.0H1628.0"/><path d="M1622.0 1105.0H1638.0"/><path d="M1607.8 1129.3H1621.8"/><path d="M1600.3 1118.0H1612.3"/><path d="M1584.2 1129.3H1608.2"/><path d="M1571.0 1136.6H1583.0"/><path d="M1544.2 1093.4H1596.2"/><path d="M1473.0 1138.9H1530.6"/><path d="M1474.1 1177.9H1491.1"/><path d="M1668.0 1080.0H1692.0"/><path d="M1666.0 1088.0H1686.0"/><path d="M1675.0 1075.0H1695.0"/><path d="M1664.0 1095.0H1680.0"/><path d="M1682.0 1085.0H1698.0"/><path d="M1612.0 1112.0H1632.0"/><path d="M1619.0 1106.0H1635.0"/><path d="M1609.0 1120.0H1625.0"/><path d="M1624.0 1100.0H1636.0"/><path d="M1841.9 964.0H1934.7" stroke-width="1.7"/><path d="M1888.3 878.6V1049.4"/><path d="M1888.3 974.0V998.0"/><path d="M1748.4 1000.5V1070.5"/><path d="M1746.9 1014.9V1074.9"/><path d="M1763.2 1021.3V1077.3"/><path d="M1740.0 1032.5V1091.9"/><path d="M1746.9 1042.2V1082.2"/><path d="M1707.4 1051.3V1104.7"/><path d="M1712.8 1051.3V1104.7"/><path d="M1715.8 1064.9V1104.9"/><path d="M1694.0 1059.0V1099.0"/><path d="M1677.2 1064.9V1104.9"/><path d="M1672.0 1062.0V1098.0"/><path d="M1682.0 1075.0V1105.0"/><path d="M1669.3 1087.7V1107.7"/><path d="M1624.8 1097.6V1125.6"/><path d="M1620.0 1106.0V1130.0"/><path d="M1630.0 1091.0V1119.0"/><path d="M1614.8 1114.3V1144.3"/><path d="M1606.3 1103.3V1132.7"/><path d="M1596.2 1109.8V1148.8"/><path d="M1577.0 1124.4V1148.8"/><path d="M1570.2 1054.7V1132.1"/><path d="M1501.8 1082.9V1194.9"/><path d="M1482.6 1160.1V1195.7"/><path d="M1680.0 1062.0V1098.0"/><path d="M1676.0 1074.0V1102.0"/><path d="M1685.0 1059.0V1091.0"/><path d="M1672.0 1085.0V1105.0"/><path d="M1690.0 1073.0V1097.0"/><path d="M1622.0 1096.0V1128.0"/><path d="M1627.0 1094.0V1118.0"/><path d="M1617.0 1108.0V1132.0"/><path d="M1630.0 1090.0V1110.0"/></g><g fill="#2474b0" fill-opacity="0.85"><circle cx="1888.3" cy="964.0" r="3.1"/><circle cx="1888.3" cy="986.0" r="3.1"/><circle cx="1748.4" cy="1035.5" r="3.1"/><circle cx="1746.9" cy="1044.9" r="3.1"/><circle cx="1763.2" cy="1049.3" r="3.1"/><circle cx="1740.0" cy="1062.2" r="3.1"/><circle cx="1746.9" cy="1062.2" r="3.1"/><circle cx="1707.4" cy="1078.0" r="3.1"/><circle cx="1712.8" cy="1078.0" r="3.1"/><circle cx="1715.8" cy="1084.9" r="3.1"/><circle cx="1694.0" cy="1079.0" r="3.1"/><circle cx="1677.2" cy="1084.9" r="3.1"/><circle cx="1672.0" cy="1080.0" r="3.1"/><circle cx="1682.0" cy="1090.0" r="3.1"/><circle cx="1669.3" cy="1097.7" r="3.1"/><circle cx="1624.8" cy="1111.6" r="3.1"/><circle cx="1620.0" cy="1118.0" r="3.1"/><circle cx="1630.0" cy="1105.0" r="3.1"/><circle cx="1614.8" cy="1129.3" r="3.1"/><circle cx="1606.3" cy="1118.0" r="3.1"/><circle cx="1596.2" cy="1129.3" r="3.1"/><circle cx="1577.0" cy="1136.6" r="3.1"/><circle cx="1570.2" cy="1093.4" r="3.1"/><circle cx="1501.8" cy="1138.9" r="3.1"/><circle cx="1482.6" cy="1177.9" r="3.1"/><circle cx="1680.0" cy="1080.0" r="3.1"/><circle cx="1676.0" cy="1088.0" r="3.1"/><circle cx="1685.0" cy="1075.0" r="3.1"/><circle cx="1672.0" cy="1095.0" r="3.1"/><circle cx="1690.0" cy="1085.0" r="3.1"/><circle cx="1622.0" cy="1112.0" r="3.1"/><circle cx="1627.0" cy="1106.0" r="3.1"/><circle cx="1617.0" cy="1120.0" r="3.1"/><circle cx="1630.0" cy="1100.0" r="3.1"/></g><line x1="1449.8" y1="1199.6" x2="1957.7" y2="947.1" stroke="#000" stroke-width="2.5" stroke-linecap="square"/></g><g stroke="#000" stroke-width="1.36" fill="none"><line x1="1415.20" y1="796.32" x2="1415.20" y2="1330.73"/><line x1="1409.30" y1="1330.05" x2="1415.20" y2="1330.05"/><line x1="1409.30" y1="1253.90" x2="1415.20" y2="1253.90"/><line x1="1409.30" y1="1177.75" x2="1415.20" y2="1177.75"/><line x1="1409.30" y1="1101.60" x2="1415.20" y2="1101.60"/><line x1="1409.30" y1="1025.45" x2="1415.20" y2="1025.45"/><line x1="1409.30" y1="949.30" x2="1415.20" y2="949.30"/><line x1="1409.30" y1="873.15" x2="1415.20" y2="873.15"/><line x1="1409.30" y1="797.00" x2="1415.20" y2="797.00"/><line x1="1449.12" y1="1367.60" x2="1922.28" y2="1367.60"/><line x1="1449.80" y1="1367.60" x2="1449.80" y2="1373.50"/><line x1="1517.20" y1="1367.60" x2="1517.20" y2="1373.50"/><line x1="1584.60" y1="1367.60" x2="1584.60" y2="1373.50"/><line x1="1652.00" y1="1367.60" x2="1652.00" y2="1373.50"/><line x1="1719.40" y1="1367.60" x2="1719.40" y2="1373.50"/><line x1="1786.80" y1="1367.60" x2="1786.80" y2="1373.50"/><line x1="1854.20" y1="1367.60" x2="1854.20" y2="1373.50"/><line x1="1921.60" y1="1367.60" x2="1921.60" y2="1373.50"/></g><text x="1403.5" y="1336.3" text-anchor="end">−0.75</text><text x="1403.5" y="1260.2" text-anchor="end">−0.50</text><text x="1403.5" y="1184.0" text-anchor="end">−0.25</text><text x="1403.5" y="1107.9" text-anchor="end">0.00</text><text x="1403.5" y="1031.7" text-anchor="end">0.25</text><text x="1403.5" y="955.6" text-anchor="end">0.50</text><text x="1403.5" y="879.4" text-anchor="end">0.75</text><text x="1403.5" y="803.3" text-anchor="end">1.00</text><text x="1449.8" y="1392.6" text-anchor="middle">−0.75</text><text x="1517.2" y="1392.6" text-anchor="middle">−0.50</text><text x="1584.6" y="1392.6" text-anchor="middle">−0.25</text><text x="1652.0" y="1392.6" text-anchor="middle">0.00</text><text x="1719.4" y="1392.6" text-anchor="middle">0.25</text><text x="1786.8" y="1392.6" text-anchor="middle">0.50</text><text x="1854.2" y="1392.6" text-anchor="middle">0.75</text><text x="1921.6" y="1392.6" text-anchor="middle">1.00</text><text x="1703.8" y="1415.6" text-anchor="middle">GenOMICC effect</text><text transform="translate(1342.0,1044.2) rotate(-90)" text-anchor="middle">HGI Hospitalised effect</text><text x="1449.1" y="803.5">Linear fit: y = 0.0083 + 0.44x</text></g>
</svg></body></html>
